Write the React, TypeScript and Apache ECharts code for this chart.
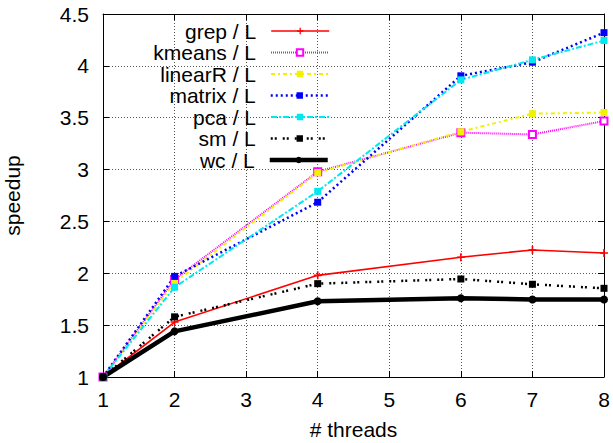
import React, { useEffect, useRef } from "react";
import * as echarts from "echarts";

const threads = [1, 2, 4, 6, 7, 8];
const grep = [1, 1.53, 1.98, 2.155, 2.225, 2.196];
const kmeans = [1, 1.94, 2.98, 3.356, 3.339, 3.468];
const linearR = [1, 1.91, 2.97, 3.365, 3.539, 3.55];
const matrix = [1, 1.97, 2.685, 3.904, 4.035, 4.32];
const pca = [1, 1.865, 2.79, 3.865, 4.058, 4.244];
const sm = [1, 1.58, 1.9, 1.945, 1.894, 1.855];
const wc = [1, 1.44, 1.73, 1.76, 1.748, 1.748];

const xTicks = [1, 2, 3, 4, 5, 6, 7, 8];
const yMin = 1;
const yMax = 4.5;

const seriesNames = ["grep / L", "kmeans / L", "linearR / L", "matrix / L", "pca / L", "sm / L", "wc / L"];

const FONT = "'Liberation Sans', Arial, Helvetica, sans-serif";
const PLUS = "path://M4,0h2v4h4v2h-4v4h-2v-4h-4v-2h4z";

export default function App() {
  const ref = useRef<HTMLDivElement>(null);
  useEffect(() => {
    document.body.style.margin = "0";
    if (!ref.current) return;
    const chart = echarts.init(ref.current, null, { renderer: "svg" });
    const pts = (ys: number[]) => threads.map((t, i) => [t, ys[i]]);

    const styles = [
      { data: grep, color: "#ff0000", width: 1.6, type: "solid", symbol: PLUS, size: 8 },
      { data: kmeans, color: "#ff00ff", width: 2, type: [1, 1], symbol: "emptyRect", size: 7 },
      { data: linearR, color: "#f2f200", width: 2, type: [4, 3, 2, 3], symbol: "rect", size: 7 },
      { data: matrix, color: "#0000ff", width: 2.5, type: [2, 3], symbol: "rect", size: 7 },
      { data: pca, color: "#00e8f0", width: 2, type: [6, 2, 2, 2], symbol: "rect", size: 7 },
      { data: sm, color: "#000000", width: 2.5, type: [2, 2, 2, 6], symbol: "rect", size: 7 },
      { data: wc, color: "#000000", width: 4.5, type: "solid", symbol: "circle", size: 8 },
    ];

    const series = styles.map((s, i) => ({
      name: seriesNames[i],
      type: "line",
      data: pts(s.data),
      symbol: s.symbol,
      symbolSize: s.size,
      showSymbol: true,
      lineStyle: { color: s.color, width: s.width, type: s.type as any },
      itemStyle: { color: s.color, borderColor: s.color, borderWidth: s.symbol === "emptyRect" ? 2 : 0 },
      emphasis: { disabled: true },
    }));

    const rowCenters = [31, 52.5, 74, 95.5, 117, 138.5, 160];
    const legends = seriesNames.map((n, i) => ({
      data: [n],
      orient: "vertical",
      align: "right",
      right: 613 - 330,
      top: rowCenters[i] - 10.5,
      padding: 0,
      itemWidth: 58,
      itemHeight: 8,
      selectedMode: false,
      lineStyle: { width: styles[i].width, type: styles[i].type as any, color: styles[i].color },
      textStyle: { fontFamily: FONT, fontSize: 21, color: "#000", lineHeight: 21, padding: [0, 10, 0, 0] },
    }));

    const axisCommon = {
      axisLine: { show: true, lineStyle: { color: "#000", width: 1 } },
      axisTick: { show: true, inside: true, length: 6, lineStyle: { color: "#000", width: 1 } },
    };

    chart.setOption({
      animation: false,
      backgroundColor: "#fff",
      grid: { left: 103, right: 9, top: 14, bottom: 66, outerBoundsMode: "none", containLabel: false },
      legend: legends,
      xAxis: [
        {
          type: "value",
          min: 1,
          max: 8,
          interval: 1,
          name: "# threads",
          nameLocation: "middle",
          nameGap: 42,
          nameTextStyle: { fontFamily: FONT, fontSize: 21, color: "#000" },
          axisLabel: {
            fontFamily: FONT,
            fontSize: 21,
            color: "#000",
            margin: 12,
            customValues: xTicks,
          },
          ...axisCommon,
          splitLine: { show: true, lineStyle: { color: "#555", width: 1, type: [1, 2] } },
        },
        {
          type: "value",
          position: "top",
          min: 1,
          max: 8,
          interval: 1,
          axisLabel: { show: false },
          ...axisCommon,
          splitLine: { show: false },
        },
      ],
      yAxis: [
        {
          type: "value",
          min: yMin,
          max: yMax,
          interval: 0.5,
          name: "speedup",
          nameLocation: "middle",
          nameGap: 80,
          nameRotate: 90,
          nameTextStyle: { fontFamily: FONT, fontSize: 21, color: "#000" },
          axisLabel: { fontFamily: FONT, fontSize: 21, color: "#000", margin: 14 },
          ...axisCommon,
          splitLine: { show: true, lineStyle: { color: "#555", width: 1, type: [1, 2] } },
        },
        {
          type: "value",
          position: "right",
          min: yMin,
          max: yMax,
          interval: 0.5,
          axisLabel: { show: false },
          ...axisCommon,
          splitLine: { show: false },
        },
      ],
      series,
    });
    return () => chart.dispose();
  }, []);
  return <div ref={ref} style={{ width: 613, height: 443 }} />;
}
